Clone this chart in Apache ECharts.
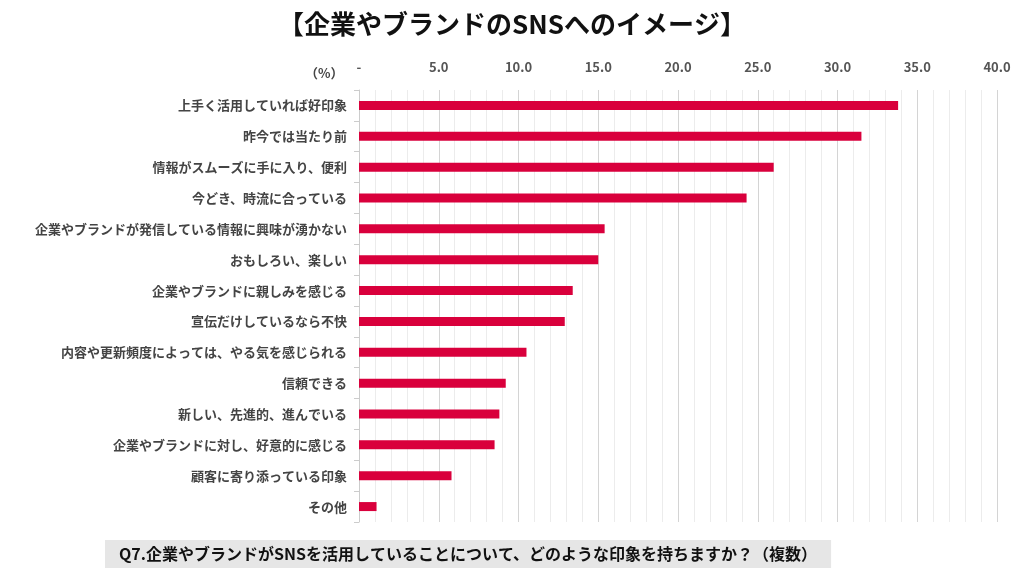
<!DOCTYPE html><html><head><meta charset="utf-8"><script src="https://cdn.jsdelivr.net/npm/echarts@6/dist/echarts.min.js"></script>
<style>body{margin:0;background:#fff}#c{width:1024px;height:580px}</style></head><body><div id="c"></div><script>
const categories=["上手く活用していれば好印象","昨今では当たり前","情報がスムーズに手に入り、便利","今どき、時流に合っている","企業やブランドが発信している情報に興味が湧かない","おもしろい、楽しい","企業やブランドに親しみを感じる","宣伝だけしているなら不快","内容や更新頻度によっては、やる気を感じられる","信頼できる","新しい、先進的、進んでいる","企業やブランドに対し、好意的に感じる","顧客に寄り添っている印象","その他"];
const values=[33.8,31.5,26.0,24.3,15.4,15.0,13.4,12.9,10.5,9.2,8.8,8.5,5.8,1.1];
const font='"Noto Sans CJK JP"';
const chart=echarts.init(document.getElementById('c'));
chart.setOption({
 textStyle:{fontFamily:font},
 title:[{text:'【企業やブランドのSNSへのイメージ】',left:'center',top:6,textStyle:{fontFamily:font,fontSize:26,fontWeight:'bold',color:'#111'}},
  {text:'（%）',left:300,top:62,textStyle:{fontFamily:font,fontSize:13,fontWeight:'bold',color:'#444'}},
  {text:'Q7.企業やブランドがSNSを活用していることについて、どのような印象を持ちますか？（複数）',left:105,top:540,padding:[6,14,6,14],backgroundColor:'#e6e6e6',textStyle:{fontFamily:font,fontSize:16,fontWeight:'bold',color:'#111'}}],
 grid:{left:359,right:27,top:90,bottom:58},
 xAxis:{type:'value',position:'top',min:0,max:40,interval:5,
  axisLabel:{formatter:v=>v===0?'-':v.toFixed(1),color:'#555',fontSize:13,fontWeight:'bold',margin:16},
  axisLine:{show:false},axisTick:{show:false},
  splitLine:{lineStyle:{color:'#d4d4d4'}},
  minorTick:{show:false,splitNumber:5},minorSplitLine:{show:true,lineStyle:{color:'#ececec'}}},
 yAxis:{type:'category',inverse:true,data:categories,
  axisLine:{lineStyle:{color:'#ccc'}},axisTick:{show:true,lineStyle:{color:'#ccc'}},
  axisLabel:{color:'#444',fontSize:13,fontWeight:'bold',margin:12}},
 series:[{type:'bar',data:values,barWidth:9,itemStyle:{color:'#d9003c'}}]
});
</script></body></html>
